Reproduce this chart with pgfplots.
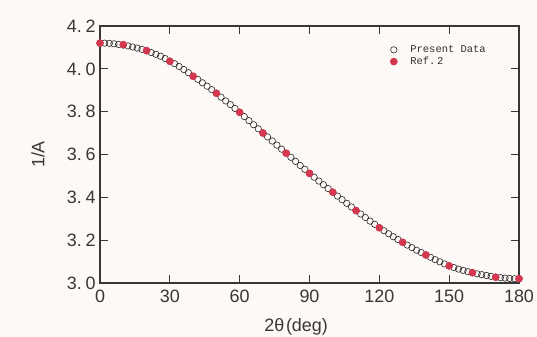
\documentclass[border=0pt]{standalone}
\usepackage{pgfplots}
\pgfplotsset{compat=1.18}
\usepackage{fontspec}
\setmainfont{Liberation Sans}
\newfontfamily\legfont{Liberation Mono}
\definecolor{refred}{RGB}{212,55,80}
\definecolor{bg}{RGB}{252,249,247}
\definecolor{axgray}{RGB}{55,55,55}
\begin{document}
\begin{tikzpicture}
\path[use as bounding box, fill=bg] (-100bp,-54bp) rectangle (437bp,283bp);
\begin{axis}[
  scale only axis,
  width=419bp, height=257bp,
  xmin=0, xmax=180, ymin=3.0, ymax=4.2,
  xtick={0,30,...,180},
  ytick={3.0,3.2,3.4,3.6,3.8,4.0,4.2},
  yticklabels={3.\hspace{0.2em}0,3.\hspace{0.2em}2,3.\hspace{0.2em}4,3.\hspace{0.2em}6,3.\hspace{0.2em}8,4.\hspace{0.2em}0,4.\hspace{0.2em}2},
  tick align=inside,
  major tick length=8bp,
  axis line style={axgray, line width=1.1pt},
  every tick/.style={axgray, line width=1pt},
  tick label style={font=\fontsize{18}{18}\selectfont, text=black!78},
  xticklabel style={yshift=-3bp},
  yticklabel style={xshift=-1bp},
  /pgf/number format/assume math mode=true,
  xlabel={2θ\hspace{0.1em}(deg)},
  ylabel={1/A},
  label style={font=\fontsize{18}{18}\selectfont, text=black!78},
  xlabel style={at={(rel axis cs:0.468,0)}, anchor=center, yshift=-44bp},
  ylabel style={at={(rel axis cs:0,0.5)}, anchor=center, rotate=0, yshift=62bp},
  legend style={at={(rel axis cs:0.685,0.94)}, anchor=north west, draw=none, fill=none,
    font=\legfont\fontsize{10.5}{12}\selectfont, row sep=-1pt, text=black!80},
  legend cell align=left,
  clip=false,
]
\addplot[only marks, mark=o, mark size=3.2bp, mark options={draw=black!85, fill=white, line width=0.6pt}] coordinates {
(0,4.120)(2,4.120)(4,4.119)(6,4.117)(8,4.114)(10,4.111)(12,4.107)(14,4.102)(16,4.097)(18,4.091)
(20,4.084)(22,4.076)(24,4.068)(26,4.059)(28,4.048)(30,4.036)(32,4.024)(34,4.011)(36,3.997)(38,3.982)
(40,3.966)(42,3.951)(44,3.935)(46,3.919)(48,3.903)(50,3.886)(52,3.868)(54,3.850)(56,3.833)(58,3.815)
(60,3.797)(62,3.777)(64,3.758)(66,3.739)(68,3.720)(70,3.701)(72,3.682)(74,3.663)(76,3.644)(78,3.625)
(80,3.606)(82,3.587)(84,3.568)(86,3.549)(88,3.531)(90,3.512)(92,3.494)(94,3.476)(96,3.459)(98,3.441)
(100,3.424)(102,3.406)(104,3.389)(106,3.372)(108,3.355)(110,3.338)(112,3.322)(114,3.306)(116,3.289)(118,3.274)
(120,3.258)(122,3.244)(124,3.230)(126,3.216)(128,3.203)(130,3.190)(132,3.177)(134,3.165)(136,3.153)(138,3.142)
(140,3.131)(142,3.120)(144,3.109)(146,3.099)(148,3.089)(150,3.080)(152,3.072)(154,3.065)(156,3.059)(158,3.053)
(160,3.048)(162,3.043)(164,3.039)(166,3.035)(168,3.031)(170,3.027)(172,3.025)(174,3.023)(176,3.021)(178,3.020)
(180,3.020)
};
\addlegendentry{\hspace{11bp}Present Data}
\addplot[only marks, mark=*, mark size=3.6bp, mark options={draw=refred, fill=refred}] coordinates {
(0,4.120)(10,4.113)(20,4.085)(30,4.035)(40,3.965)(50,3.886)(60,3.797)(70,3.700)(80,3.606)
(90,3.512)(100,3.424)(110,3.338)(120,3.258)(130,3.190)(140,3.131)(150,3.080)(160,3.048)(170,3.027)(180,3.020)
};
\addlegendentry{\hspace{11bp}Ref.\,2}
\end{axis}
\end{tikzpicture}
\end{document}
